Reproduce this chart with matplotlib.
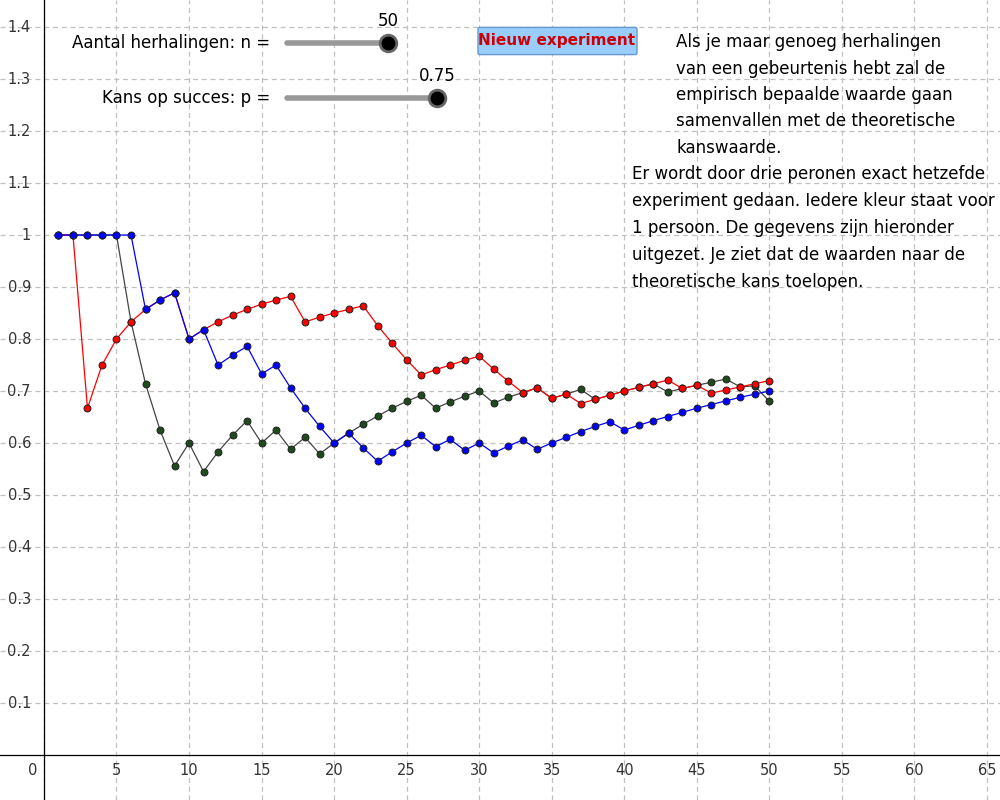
import matplotlib
matplotlib.use("Agg")
import matplotlib.pyplot as plt
from matplotlib.patches import FancyBboxPatch

n = list(range(1, 51))
red = [1,1,0.667,0.75,0.8,0.833,0.857,0.875,0.889,0.8,0.818,0.833,0.846,0.857,0.867,0.875,0.882,0.833,0.842,0.85,
       0.857,0.864,0.826,0.792,0.76,0.731,0.741,0.75,0.759,0.767,0.742,0.719,0.697,0.706,0.686,0.694,0.676,0.684,0.692,0.7,
       0.707,0.714,0.721,0.705,0.711,0.696,0.702,0.708,0.714,0.72]
green = [1,1,1,1,1,0.833,0.714,0.625,0.556,0.6,0.545,0.583,0.615,0.643,0.6,0.625,0.588,0.611,0.579,0.6,
         0.619,0.636,0.652,0.667,0.68,0.692,0.667,0.679,0.69,0.7,0.677,0.688,0.697,0.706,0.686,0.694,0.703,0.684,0.692,0.7,
         0.707,0.714,0.698,0.705,0.711,0.717,0.723,0.708,0.71,0.68]
blue = [1,1,1,1,1,1,0.857,0.875,0.889,0.8,0.818,0.75,0.769,0.786,0.733,0.75,0.706,0.667,0.632,0.6,
        0.619,0.591,0.565,0.583,0.6,0.615,0.593,0.607,0.586,0.6,0.581,0.594,0.606,0.588,0.6,0.611,0.622,0.632,0.641,0.625,
        0.634,0.643,0.651,0.659,0.667,0.674,0.681,0.688,0.694,0.7]
xticks = list(range(0, 70, 5))
yticks = [round(0.1*i, 1) for i in range(1, 15)]

fig = plt.figure(figsize=(10, 8), dpi=100)
ax = fig.add_axes([0, 0, 1, 1])
ax.set_xlim(-3.03, 65.9)
ax.set_ylim(-0.0865, 1.452)
for s in ax.spines.values():
    s.set_visible(False)
ax.set_xticks(xticks)
ax.set_yticks(yticks)
ax.tick_params(length=0, labelbottom=False, labelleft=False)
ax.grid(True, color="#c0c0c0", linestyle=(0, (4, 3)), linewidth=0.9)
ax.axhline(0, color="black", lw=0.9)
ax.axvline(0, color="black", lw=0.9)
for x in xticks:
    ax.text(x if x else -0.8, -0.015, "0" if x == 0 else str(x), ha="center", va="top", fontsize=10.5, color="#333")
for y in yticks:
    ax.text(-0.9, y, f"{y:g}", ha="right", va="center", fontsize=10.5, color="#333")

for data, c, fc in [(green, "#444444", "#1e4a1e"), (red, "#ff0000", "#ff0000"), (blue, "#0000ff", "#0000ff")]:
    ax.plot(n, data, color=c, lw=0.9, marker="o", ms=5, mfc=fc, mec="#222", mew=0.7, zorder=3)

# sliders
def slider(y, x0, x1, label, val):
    fig.text(270/1000, 1 - y/800, label, ha="right", va="center", fontsize=12)
    fig.add_artist(plt.Line2D([287/1000, x1/1000], [1 - y/800]*2, color="#999", lw=4, solid_capstyle="round"))
    fig.add_artist(plt.Line2D([x1/1000], [1 - y/800], marker="o", ms=12, color="black", mec="#666", mew=2))
    fig.text(x1/1000, 1 - (y-22)/800, val, ha="center", va="center", fontsize=12)
slider(43, 287, 388, "Aantal herhalingen: n =", "50")
slider(98, 287, 437, "Kans op succes: p =", "0.75")

fig.add_artist(FancyBboxPatch((480/1000, 1-53/800), 155/1000, 24/800, boxstyle="round,pad=0.002",
                              fc="#99ccff", ec="#6699cc", transform=fig.transFigure))
fig.text(557/1000, 1-41/800, "Nieuw experiment", ha="center", va="center", fontsize=11, color="#cc0000", weight="bold")

t1 = ["Als je maar genoeg herhalingen", "van een gebeurtenis hebt zal de", "empirisch bepaalde waarde gaan",
      "samenvallen met de theoretische", "kanswaarde."]
for i, s in enumerate(t1):
    fig.text(676/1000, 1-(42+26.5*i)/800, s, ha="left", va="center", fontsize=12)
t2 = ["Er wordt door drie peronen exact hetzefde", "experiment gedaan. Iedere kleur staat voor",
      "1 persoon. De gegevens zijn hieronder", "uitgezet. Je ziet dat de waarden naar de", "theoretische kans toelopen."]
for i, s in enumerate(t2):
    fig.text(632/1000, 1-(174+27*i)/800, s, ha="left", va="center", fontsize=12)

fig.savefig("out.png", dpi=100)
